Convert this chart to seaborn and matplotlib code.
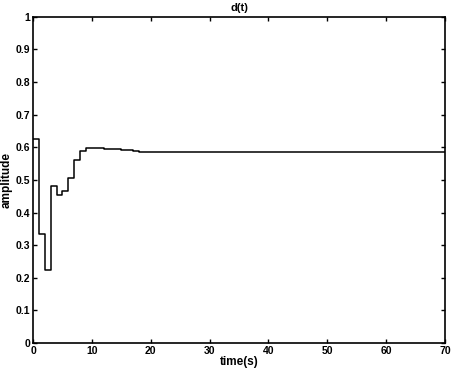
import numpy as np
import pandas as pd
import matplotlib
matplotlib.use("Agg")
import matplotlib.pyplot as plt
import seaborn as sns

# step output d(t), one value per second
time_s = list(range(0, 71))
head = [0.625, 0.333, 0.225, 0.482, 0.455, 0.465, 0.507, 0.561, 0.590,
        0.598, 0.598, 0.597, 0.596, 0.595, 0.594, 0.593, 0.591, 0.589,
        0.587, 0.586, 0.586]
amplitude = head + [0.587] * (len(time_s) - len(head))

y_ticks = [0, 0.1, 0.2, 0.3, 0.4, 0.5, 0.6, 0.7, 0.8, 0.9, 1]
y_labels = ["0", "0.1", "0.2", "0.3", "0.4", "0.5", "0.6", "0.7", "0.8", "0.9", "1"]
x_ticks = [0, 10, 20, 30, 40, 50, 60, 70]

df = pd.DataFrame({"time": time_s, "amplitude": amplitude})

sns.set_style("white")
plt.rcParams["font.family"] = ["Liberation Sans", "DejaVu Sans"]
plt.rcParams["font.weight"] = "bold"
plt.rcParams["text.color"] = "black"
plt.rcParams["axes.labelcolor"] = "black"
plt.rcParams["xtick.color"] = "black"
plt.rcParams["ytick.color"] = "black"

fig = plt.figure(figsize=(4.53, 3.74), dpi=100)
ax = fig.add_axes([0.073, 0.083, 0.909, 0.872])

sns.lineplot(data=df, x="time", y="amplitude", drawstyle="steps-post",
             color="black", linewidth=1.1, ax=ax)

ax.set_xlim(0, 70)
ax.set_ylim(0, 1)
ax.set_xticks(x_ticks)
ax.set_xticklabels([str(v) for v in x_ticks], fontsize=7.5, fontweight="bold")
ax.set_yticks(y_ticks)
ax.set_yticklabels(y_labels, fontsize=7.5, fontweight="bold")
ax.tick_params(direction="in", length=3, width=1, top=True, right=True,
               bottom=True, left=True, pad=2, colors="black")
for s in ax.spines.values():
    s.set_color("black")
    s.set_linewidth(1.2)

ax.set_title("d(t)", fontsize=8, fontweight="bold", pad=4, color="black")
ax.set_xlabel("time(s)", fontsize=8.5, fontweight="bold", labelpad=0)
ax.set_ylabel("amplitude", fontsize=8.5, fontweight="bold", labelpad=2)

fig.savefig("out.png", dpi=100)
